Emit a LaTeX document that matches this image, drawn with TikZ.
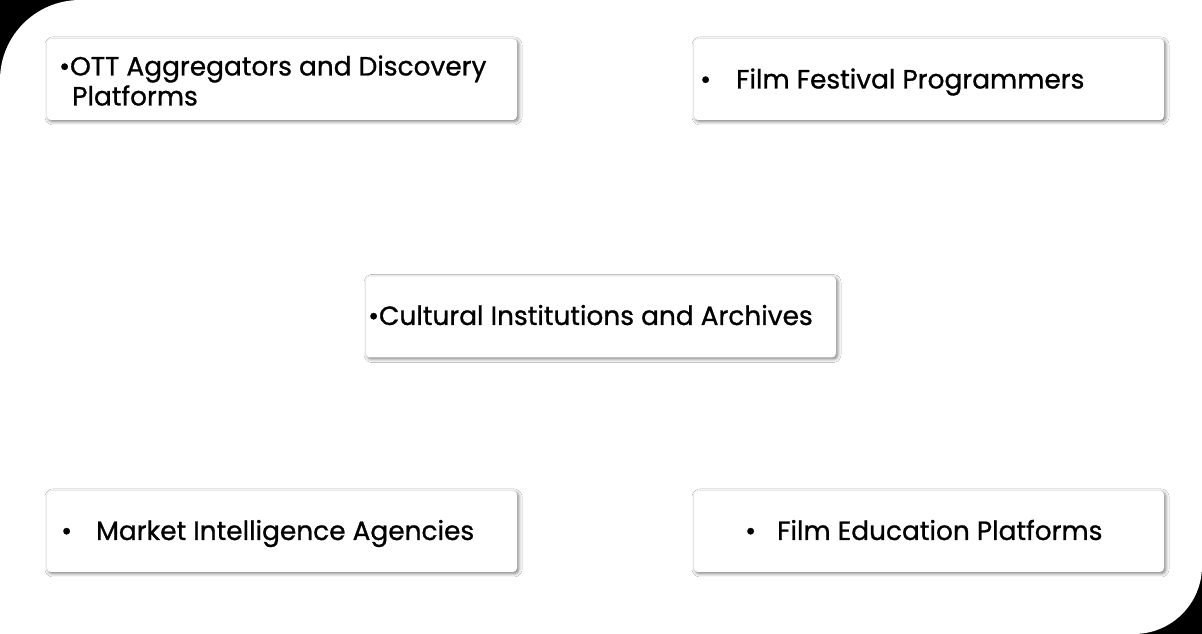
\documentclass[tikz,border=0pt]{standalone}
\usepackage{fontspec}
\setmainfont{Poppins}[FakeBold=0.9]
\usetikzlibrary{shadows.blur}
\tikzset{
  card/.style={fill=white, rounded corners=4pt,
    minimum width=470pt, minimum height=81pt, inner sep=0pt,
    blur shadow={shadow xshift=1.5pt, shadow yshift=-1.5pt, shadow blur radius=3.5pt, shadow opacity=55}},
  txt/.style={anchor=base west, inner sep=0pt, font=\fontsize{26.4pt}{30pt}\selectfont, text=black}
}
\begin{document}
\begin{tikzpicture}[x=1pt,y=1pt]
\useasboundingbox (0,0) rectangle (1202,634);
\fill[black] (0,0) rectangle (1202,634);
\fill[white] (0,0) -- (0,554) arc[start angle=180, end angle=90, radius=80] -- (1202,634) -- (1202,68) arc[start angle=0, end angle=-90, radius=68] -- cycle;
% cards
\node[card] (c1) at (282,554.5) {};
\node[card] (c2) at (929,554.5) {};
\node[card] (c3) at (601,317) {};
\node[card] (c4) at (282,102.5) {};
\node[card] (c5) at (929,102.5) {};
% texts
\node[txt] (t1a) at (59,558.5) {•OTT Aggregators and Discovery};
\node[txt] (t1b) at (72,528.5) {Platforms};
\node[txt] (t2) at (700,545.5) {\makebox[36pt][l]{•}Film Festival Programmers};
\node[txt] (t3) at (368,309) {•Cultural Institutions and Archives};
\node[txt] (t4) at (61,94) {\makebox[35pt][l]{•}Market Intelligence Agencies};
\node[txt] (t5) at (745,94) {\makebox[32pt][l]{•}Film Education Platforms};
\end{tikzpicture}
\end{document}
